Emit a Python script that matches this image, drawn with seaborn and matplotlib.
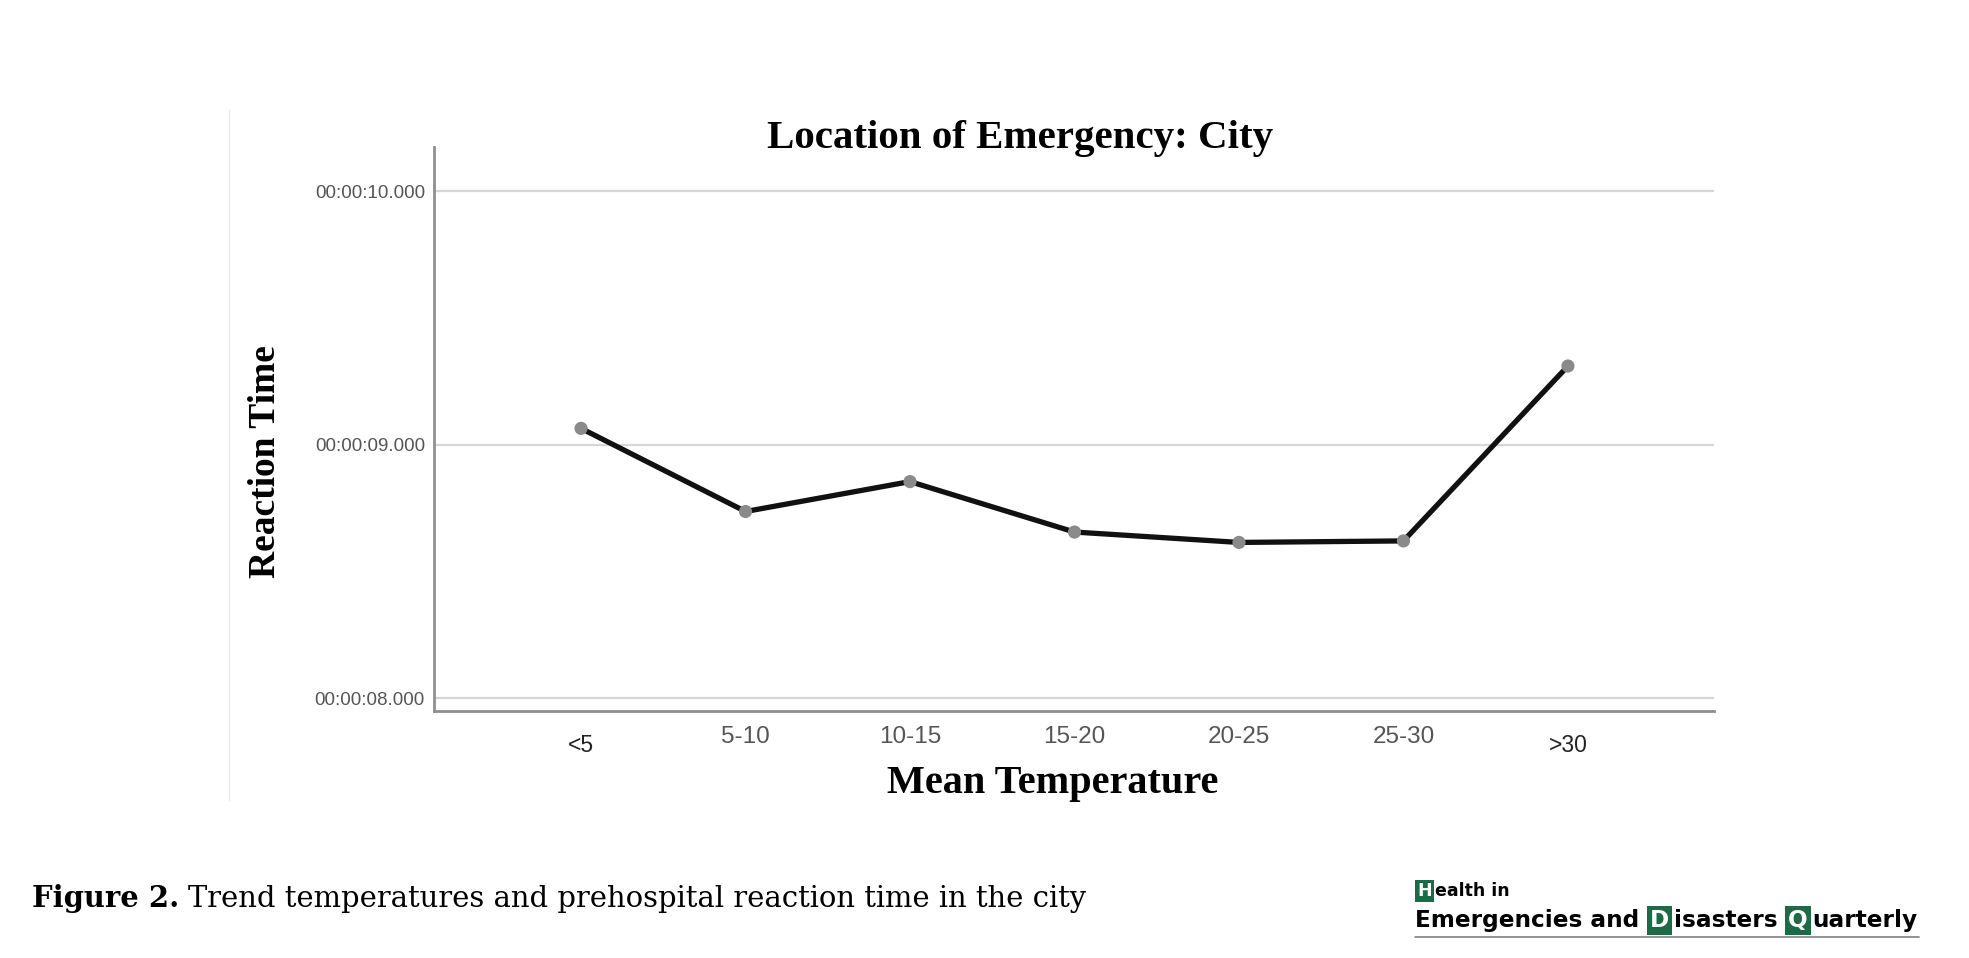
import matplotlib
matplotlib.use('Agg')
import matplotlib.pyplot as plt
import pandas as pd
import seaborn as sns
from matplotlib.ticker import FuncFormatter, FixedLocator
from matplotlib.lines import Line2D
from matplotlib.transforms import ScaledTranslation

# Data (reaction time in seconds)
temp_bins = ['<5', '5-10', '10-15', '15-20', '20-25', '25-30', '>30']
reaction_sec = [9.064, 8.736, 8.854, 8.655, 8.614, 8.620, 9.310]
y_ticks = [8, 9, 10]

W, H = 1969, 958
GREEN = '#1c6a46'

sns.set_theme(style='white')
plt.rcParams['font.family'] = ['Liberation Sans', 'DejaVu Sans']

fig = plt.figure(figsize=(W / 100, H / 100), dpi=100)
fig.patch.set_facecolor('white')
ax = fig.add_axes([434 / W, 1 - 711 / H, (1714 - 434) / W, (711 - 147) / H])

df = pd.DataFrame({'temp': temp_bins, 'rt': reaction_sec})
sns.lineplot(data=df, x='temp', y='rt', color='#111111', lw=3.8, sort=False, ax=ax, zorder=3)
sns.scatterplot(data=df, x='temp', y='rt', color='#8a8a8a', s=90, edgecolor='none', ax=ax, zorder=4)

ax.set_xlim(-0.894, 6.888)
ax.set_ylim(7.949, 10.174)
ax.set_xticks(range(len(temp_bins)), temp_bins)
ax.yaxis.set_major_locator(FixedLocator(y_ticks))
ax.yaxis.set_major_formatter(FuncFormatter(lambda v, p: '00:00:%06.3f' % v))
ax.grid(axis='y', color='#d6d6d6', lw=1.6)
ax.set_axisbelow(True)
for s in ['top', 'right']:
    ax.spines[s].set_visible(False)
for s in ['left', 'bottom']:
    ax.spines[s].set_color('#8f8f8f')
    ax.spines[s].set_linewidth(2)
ax.tick_params(axis='y', length=0, pad=6.5, labelsize=13.5, labelcolor='#555555')
ax.tick_params(axis='x', length=0, pad=11, labelsize=17.5, labelcolor='#555555')
ax.set_xlabel('')
ax.set_ylabel('')
# first and last category labels sit a bit lower and darker
for i in (0, len(temp_bins) - 1):
    lab = ax.get_xticklabels()[i]
    lab.set_transform(lab.get_transform() + ScaledTranslation(0, -8 / 100, fig.dpi_scale_trans))
    lab.set_color('#222222')
    lab.set_fontsize(16.5)

serif = 'Liberation Serif'
fig.text(1020 / W, 1 - 148 / H, 'Location of Emergency: City', ha='center', va='baseline',
         fontsize=29.5, fontweight='bold', family=serif, color='black')
fig.text(1053 / W, 1 - 793 / H, 'Mean Temperature', ha='center', va='baseline',
         fontsize=29, fontweight='bold', family=serif, color='black')
fig.text(265 / W, 1 - 462 / H, 'Reaction Time', ha='center', va='center', rotation=90,
         fontsize=27, fontweight='bold', family=serif, color='black')

# faint edge of the embedded chart image
fig.add_artist(Line2D([229 / W, 229 / W], [1 - 110 / H, 1 - 800 / H], color='#ececec', lw=1))

renderer = fig.canvas.get_renderer()


def put_runs(x, base, runs):
    for txt, kw, pre, post in runs:
        x += pre
        t = fig.text(x / W, 1 - base / H, txt, ha='left', va='baseline', **kw)
        x += t.get_window_extent(renderer).width + post
    return x


# caption
cap_kw = dict(family='DejaVu Serif', fontsize=20.85, color='black')
put_runs(32, 907, [
    ('Figure 2.', dict(cap_kw, fontweight='bold'), 0, 9),
    ('Trend temperatures and prehospital reaction time in the city', cap_kw, 0, 0),
])

# journal logo
logo = dict(family='DejaVu Sans', fontweight='bold', color='black')
box = dict(boxstyle='square,pad=0.12', fc=GREEN, ec='none')
put_runs(1417, 896, [
    ('H', dict(logo, fontsize=12.5, color='white', bbox=box), 0, 3),
    ('ealth in', dict(logo, fontsize=12.5), 0, 0),
])
put_runs(1415, 927, [
    ('Emergencies and', dict(logo, fontsize=16.7), 0, 8),
    ('D', dict(logo, fontsize=16.7, color='white', bbox=box), 3, 4),
    ('isasters', dict(logo, fontsize=16.7), 0, 8),
    ('Q', dict(logo, fontsize=16.7, color='white', bbox=box), 3, 4),
    ('uarterly', dict(logo, fontsize=16.7), 0, 0),
])
fig.add_artist(Line2D([1415 / W, 1919 / W], [1 - 937 / H, 1 - 937 / H], color='#808080', lw=1.2))

fig.savefig('out.png', dpi=100, facecolor='white')
